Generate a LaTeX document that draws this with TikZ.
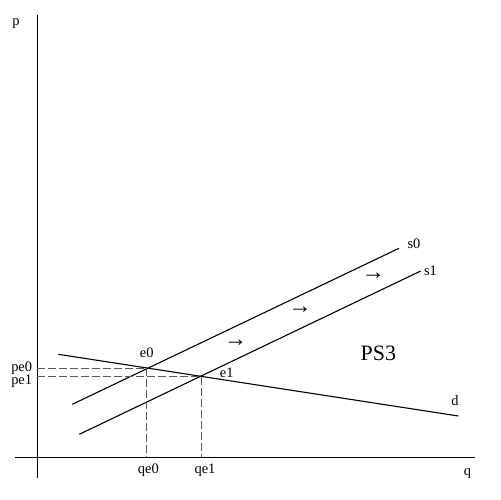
\documentclass[tikz,border=0pt]{standalone}
\usepackage{fontspec}
\setmainfont{Liberation Serif}
\begin{document}
\begin{tikzpicture}[x=1bp,y=-1bp,
  axis/.style={line width=1.1bp,black},
  curve/.style={line width=1.1bp,black},
  guide/.style={line width=0.5bp,gray!70!black,dash pattern=on 8bp off 3bp},
  lbl/.style={inner sep=0pt,font=\fontsize{14.5}{16}\selectfont},
  big/.style={inner sep=0pt,font=\fontsize{22}{24}\selectfont},
  movearrow/.style={inner sep=0pt,font=\fontsize{23}{24}\selectfont}]
\useasboundingbox (0,0) rectangle (500,500);
% axes
\coordinate (yt) at (37.3,15);
\coordinate (yb) at (37.3,478.3);
\coordinate (xl) at (15,457.3);
\coordinate (xr) at (475,457.3);
\draw[axis] (yt) -- (yb);
\draw[axis] (xl) -- (xr);
% curves
\coordinate (s0a) at (72.3,404.3);
\coordinate (s0b) at (399,248.3);
\coordinate (s1a) at (79.3,434.3);
\coordinate (s1b) at (420.7,271);
\coordinate (da) at (58.3,354.3);
\coordinate (db) at (458.3,416);
\draw[curve] (s0a) -- (s0b);
\draw[curve] (s1a) -- (s1b);
\draw[curve] (da) -- (db);
% equilibria
\coordinate (e0) at (146.7,368.2);
\coordinate (e1) at (201,376.5);
\coordinate (e0y) at (37.3,368.2);
\coordinate (e1y) at (37.3,376.5);
\coordinate (e0x) at (146.7,457.3);
\coordinate (e1x) at (201,457.3);
\draw[guide] (e0y) -- (e0);
\draw[guide] (e1y) -- (e1);
\draw[guide] (e0) -- (e0x);
\draw[guide] (e1) -- (e1x);
% labels
\node[lbl] (p) at (16,24) {p};
\node[lbl] (q) at (467.5,474) {q};
\node[lbl] (pe0) at (21.7,368.5) {pe0};
\node[lbl] (pe1) at (21.7,381.5) {pe1};
\node[lbl] (qe0) at (148.3,470.5) {qe0};
\node[lbl] (qe1) at (205,470.5) {qe1};
\node[lbl] (le0) at (146.7,353) {e0};
\node[lbl] (le1) at (226.7,372.5) {e1};
\node[lbl] (ls0) at (414,243.5) {s0};
\node[lbl] (ls1) at (430.5,271) {s1};
\node[lbl] (ld) at (455,401) {d};
\node[big] (ps3) at (378.3,353.5) {PS3};
\node[movearrow] (a1) at (235.7,343.5) {→};
\node[movearrow] (a2) at (300,310.5) {→};
\node[movearrow] (a3) at (373.3,276.5) {→};
\end{tikzpicture}
\end{document}
